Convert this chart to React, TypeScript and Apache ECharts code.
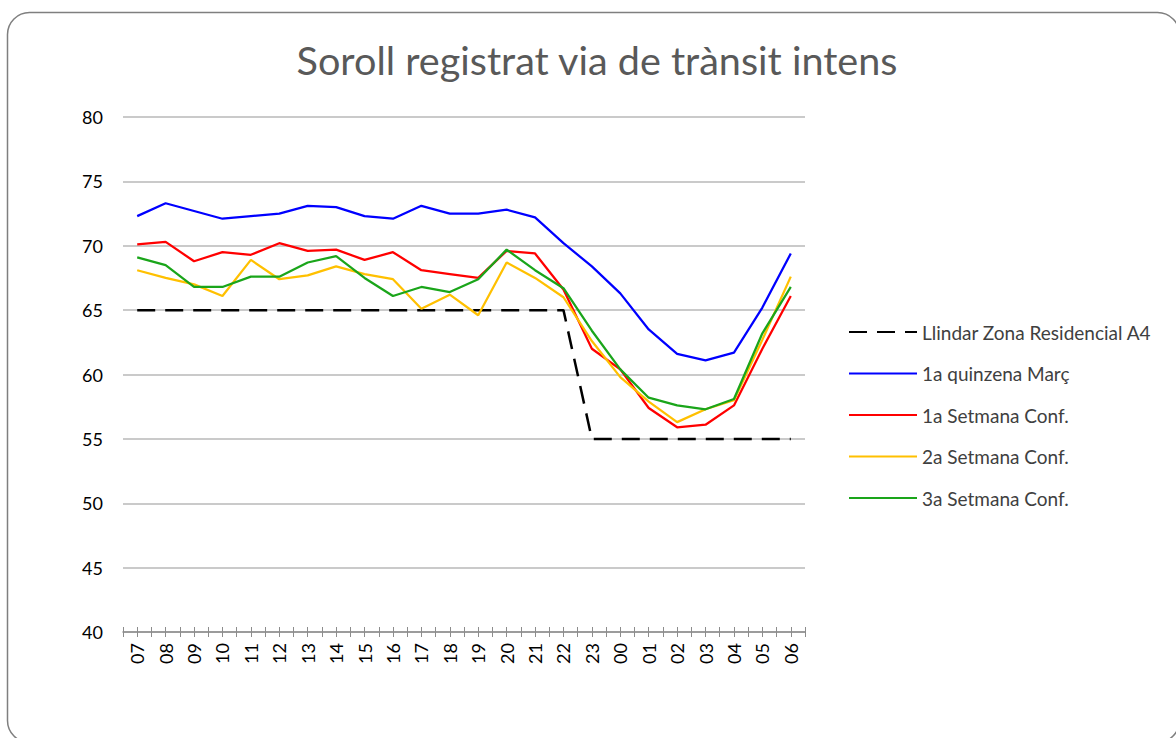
import React, { useEffect, useRef } from "react";
import * as echarts from "echarts";

const titleText = "Soroll registrat via de trànsit intens";
const hours = ["07","08","09","10","11","12","13","14","15","16","17","18","19","20","21","22","23","00","01","02","03","04","05","06"];
const yTicks = { min: 40, max: 80, interval: 5 };
const llindar = [65,65,65,65,65,65,65,65,65,65,65,65,65,65,65,65,55,55,55,55,55,55,55,55];
const quinzenaMarc = [72.3,73.3,72.7,72.1,72.3,72.5,73.1,73.0,72.3,72.1,73.1,72.5,72.5,72.8,72.2,70.2,68.4,66.3,63.5,61.6,61.1,61.7,65.2,69.4];
const setmana1 = [70.1,70.3,68.8,69.5,69.3,70.2,69.6,69.7,68.9,69.5,68.1,67.8,67.5,69.6,69.4,66.6,62.0,60.4,57.4,55.9,56.1,57.6,62.0,66.1];
const setmana2 = [68.1,67.5,67.0,66.1,68.9,67.4,67.7,68.4,67.8,67.4,65.1,66.2,64.6,68.7,67.5,66.0,62.6,59.8,57.9,56.3,57.3,58.0,62.7,67.6];
const setmana3 = [69.1,68.5,66.8,66.8,67.6,67.6,68.7,69.2,67.5,66.1,66.8,66.4,67.4,69.7,68.1,66.7,63.4,60.4,58.2,57.6,57.3,58.1,63.2,66.8];
const seriesNames = ["Llindar Zona Residencial A4","1a quinzena Març","1a Setmana Conf.","2a Setmana Conf.","3a Setmana Conf."];

export default function App() {
  const ref = useRef<HTMLDivElement>(null);
  useEffect(() => {
    document.body.style.margin = "0";
    const chart = echarts.init(ref.current!, undefined, { renderer: "svg" });
    const font = "Lato, 'Open Sans', sans-serif";
    const tickColor = "#8c8c8c";
    const baseX = (extra: any) => ({
      type: "category",
      data: hours,
      boundaryGap: true,
      position: "bottom",
      gridIndex: 0,
      axisLine: { show: false },
      axisLabel: { show: false },
      splitLine: { show: false },
      ...extra,
    });
    const line = (name: string, data: number[], color: string, extra: any = {}) => ({
      name,
      type: "line",
      data,
      xAxisIndex: 0,
      symbol: "none",
      lineStyle: { color, width: 2.25, ...extra },
      itemStyle: { color },
    });
    chart.setOption({
      animation: false,
      title: {
        text: titleText,
        left: 592,
        textAlign: "center",
        top: 34,
        textStyle: { fontFamily: font, fontSize: 39.6, fontWeight: "normal", color: "#595959" },
      },
      graphic: [
        {
          type: "rect",
          shape: { x: 7.5, y: 12.5, width: 1172, height: 730, r: 22 },
          style: { fill: "none", stroke: "#7f7f7f", lineWidth: 1.5 },
          silent: true,
        },
      ],
      grid: { left: 123, right: 371, top: 117, bottom: 106 },
      legend: {
        orient: "vertical",
        left: 848,
        top: 322,
        padding: 0,
        itemWidth: 68,
        itemHeight: 20,
        itemGap: 21.5,
        itemStyle: { opacity: 0 },
        data: seriesNames,
        textStyle: { fontFamily: font, fontSize: 19, color: "#404040", lineHeight: 20, padding: [0, 0, 0, 0] },
      },
      xAxis: [
        baseX({
          axisLine: { show: true, lineStyle: { color: tickColor, width: 1.5 } },
          axisTick: { show: true, alignWithLabel: false, length: 5, lineStyle: { color: tickColor, width: 1 } },
          axisLabel: {
            show: true,
            rotate: 90,
            interval: 0,
            margin: 11,
            fontFamily: font,
            fontSize: 18,
            color: "#000000",
          },
        }),
        baseX({ axisTick: { show: true, inside: true, alignWithLabel: false, length: 5, lineStyle: { color: tickColor, width: 1 } } }),
        baseX({ axisTick: { show: true, alignWithLabel: true, interval: 0, length: 5, lineStyle: { color: tickColor, width: 1 } } }),
        baseX({ axisTick: { show: true, inside: true, alignWithLabel: true, interval: 0, length: 5, lineStyle: { color: tickColor, width: 1 } } }),
      ],
      yAxis: {
        type: "value",
        min: yTicks.min,
        max: yTicks.max,
        interval: yTicks.interval,
        axisLine: { show: false },
        axisTick: { show: false },
        axisLabel: { fontFamily: font, fontSize: 18, color: "#000000", margin: 20 },
        splitLine: { lineStyle: { color: "#b8b8b8", width: 1.5 } },
      },
      series: [
        line(seriesNames[0], llindar, "#000000", { type: [18, 10], width: 2.5 }),
        line(seriesNames[1], quinzenaMarc, "#0000ff"),
        line(seriesNames[2], setmana1, "#ff0000"),
        line(seriesNames[3], setmana2, "#ffc000"),
        line(seriesNames[4], setmana3, "#1aa51a"),
      ],
    });
    return () => chart.dispose();
  }, []);
  return <div ref={ref} style={{ width: 1176, height: 738 }} />;
}
